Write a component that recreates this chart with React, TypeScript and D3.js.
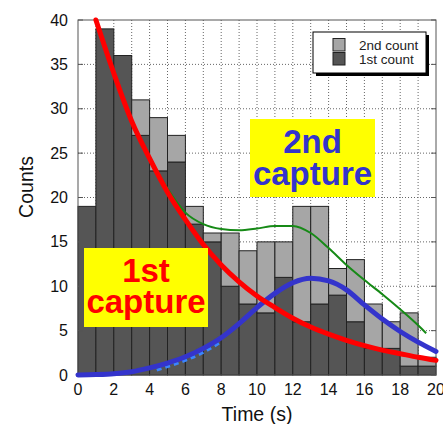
import React from 'react';
import * as d3 from 'd3';

// histogram bins (1 s wide)
const binStart = [0, 1, 2, 3, 4, 5, 6, 7, 8, 9, 10, 11, 12, 13, 14, 15, 16, 17, 18, 19];
const firstCount = [19, 39, 36, 27, 23, 24, 17, 15, 10, 8, 7, 11, 6, 8, 9, 6, 3, 3, 1, 1];
const secondCount = [0, 0, 0, 4, 6, 3, 2, 1, 6, 6, 8, 4, 13, 11, 3, 7, 5, 3, 6, 1];

// fitted curves
const redT = [1, 2, 3, 4, 5, 6, 7, 8, 9, 10, 11, 12, 13, 14, 15, 16, 17, 18, 19, 20];
const redV = [40, 34, 28.6, 24.4, 20.6, 17.5, 14.7, 12.4, 10.5, 8.9, 7.6, 6.4, 5.4, 4.6, 3.9, 3.3, 2.8, 2.4, 2.0, 1.65];
const blueT = [0, 1, 2, 3, 4, 5, 6, 7, 8, 9, 10, 11, 12, 13, 14, 15, 16, 17, 18, 19, 20];
const blueV = [0, 0.05, 0.15, 0.37, 0.8, 1.35, 2.05, 3.0, 4.2, 5.8, 7.6, 9.2, 10.4, 10.9, 10.6, 9.6, 7.9, 6.3, 4.9, 3.7, 2.65];
const dashT = [4.4, 5, 6, 7, 8];
const dashV = [0.55, 0.95, 1.65, 2.55, 3.75];
const greenT = [3, 4, 5, 6, 7, 8, 9, 10, 11, 12, 13, 14, 15, 16, 17, 18, 19, 19.45];
const greenV = [28.7, 24.6, 21.0, 18.3, 17.0, 16.45, 16.3, 16.5, 16.8, 16.8, 16.0, 14.3, 12.4, 10.7, 9.1, 7.4, 5.6, 4.7];

const xTicks = [0, 2, 4, 6, 8, 10, 12, 14, 16, 18, 20];
const yTicks = [0, 5, 10, 15, 20, 25, 30, 35, 40];

const FONT = '"Liberation Sans", Arial, sans-serif';

export default function App() {
  const left = 78, right = 436, top = 20, bottom = 375;
  const x = d3.scaleLinear().domain([0, 20]).range([left, right]);
  const y = d3.scaleLinear().domain([0, 40]).range([bottom, top]);

  const line = d3.line<[number, number]>()
    .x(d => x(d[0]))
    .y(d => y(d[1]))
    .curve(d3.curveMonotoneX);

  const pts = (ts: number[], vs: number[]) => ts.map((t, i) => [t, vs[i]] as [number, number]);

  const vGrid = d3.range(1, 20);
  const hGrid = [5, 10, 15, 20, 25, 30, 35];

  return (
    <svg width={443} height={424} style={{ position: 'absolute', left: 0, top: 0, background: '#fff' }}
      fontFamily={FONT}>
      {/* grid */}
      <g stroke="#666" strokeWidth={1} strokeDasharray="1,2">
        {vGrid.map(v => <line key={'v' + v} x1={x(v)} x2={x(v)} y1={top} y2={bottom} />)}
        {hGrid.map(v => <line key={'h' + v} x1={left} x2={right} y1={y(v)} y2={y(v)} />)}
      </g>

      {/* stacked bars */}
      <g stroke="#222" strokeWidth={1}>
        {binStart.map((b, i) => (
          <g key={b}>
            <rect x={x(b)} width={x(b + 1) - x(b)} y={y(firstCount[i])}
              height={y(0) - y(firstCount[i])} fill="#555" />
            {secondCount[i] > 0 && (
              <rect x={x(b)} width={x(b + 1) - x(b)} y={y(firstCount[i] + secondCount[i])}
                height={y(firstCount[i]) - y(firstCount[i] + secondCount[i])} fill="#a6a6a6" />
            )}
          </g>
        ))}
      </g>

      {/* frame */}
      <rect x={left} y={top} width={right - left} height={bottom - top} fill="none" stroke="#555" strokeWidth={1} />
      <g stroke="#555">
        {yTicks.map(v => (
          <g key={'t' + v}>
            <line x1={left} x2={left + 5} y1={y(v)} y2={y(v)} />
            <line x1={right - 5} x2={right} y1={y(v)} y2={y(v)} />
          </g>
        ))}
      </g>

      {/* curves */}
      <path d={line(pts(greenT, greenV)) || ''} fill="none" stroke="#168a16" strokeWidth={2} />
      <path d={line(pts(dashT, dashV)) || ''} fill="none" stroke="#3a86ff" strokeWidth={3} strokeDasharray="5,4" />
      <path d={line(pts(blueT, blueV)) || ''} fill="none" stroke="#3434cc" strokeWidth={5} strokeLinecap="round" />
      <path d={line(pts(redT, redV)) || ''} fill="none" stroke="#ff0000" strokeWidth={5} strokeLinecap="round" />

      {/* labels boxes */}
      <rect x={250} y={119} width={125} height={78} fill="#ffff00" />
      <g fontWeight="bold" fontSize={33} fill="#3434cc" textAnchor="middle">
        <text x={312.5} y={153}>2nd</text>
        <text x={312.5} y={185}>capture</text>
      </g>
      <rect x={84} y={248} width={124} height={79} fill="#ffff00" />
      <g fontWeight="bold" fontSize={33} fill="#ff0000" textAnchor="middle">
        <text x={146} y={282}>1st</text>
        <text x={146} y={313}>capture</text>
      </g>

      {/* legend */}
      <rect x={316} y={35} width={113} height={41} fill="#000" />
      <rect x={313} y={32} width={113} height={41} fill="#fff" stroke="#000" strokeWidth={1} />
      <rect x={333} y={38.5} width={12} height={12.5} fill="#a6a6a6" stroke="#222" />
      <rect x={333} y={52.5} width={12} height={12.5} fill="#555" stroke="#222" />
      <g fontSize={13.5} fill="#222">
        <text x={359} y={50}>2nd count</text>
        <text x={359} y={64}>1st count</text>
      </g>

      {/* axes labels */}
      <g fontSize={16} fill="#111">
        {yTicks.map(v => (
          <text key={'yl' + v} x={68} y={y(v)} dy="0.35em" textAnchor="end">{v}</text>
        ))}
        {xTicks.map(v => (
          <text key={'xl' + v} x={x(v)} y={395} textAnchor="middle">{v}</text>
        ))}
      </g>
      <text x={257} y={421} fontSize={19.5} textAnchor="middle" fill="#111">Time (s)</text>
      <text transform="translate(33,187) rotate(-90)" fontSize={19.5} textAnchor="middle" fill="#111">Counts</text>
    </svg>
  );
}
